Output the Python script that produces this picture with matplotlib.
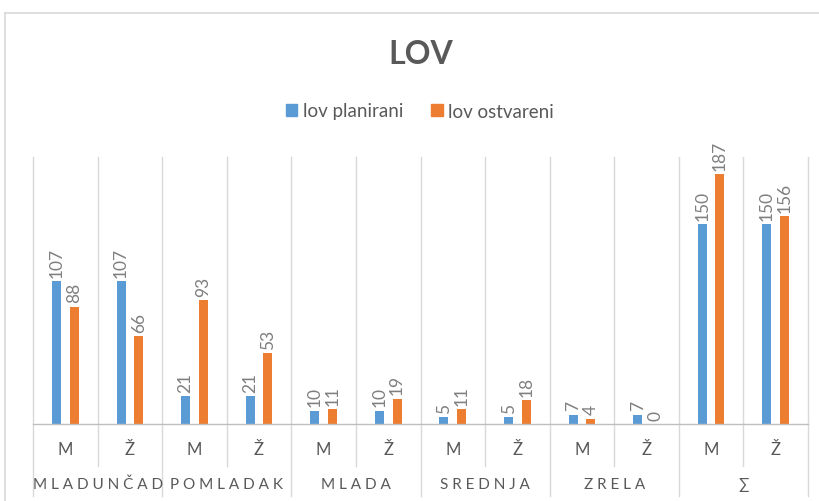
import matplotlib
matplotlib.use("Agg")
import matplotlib.pyplot as plt
from matplotlib.patches import Patch
from matplotlib.lines import Line2D
import numpy as np

plt.rcParams['font.family'] = ['Lato', 'DejaVu Sans']

groups = ["MLADUNČAD", "POMLADAK", "MLADA", "SREDNJA", "ZRELA", "∑"]
sexes = ["M", "Ž"]
planirani = [107, 107, 21, 21, 10, 10, 5, 5, 7, 7, 150, 150]
ostvareni = [88, 66, 93, 53, 11, 19, 11, 18, 4, 0, 187, 156]
series_names = ["lov planirani", "lov ostvareni"]
colors = ["#5B9BD5", "#ED7D31"]

W, H = 819, 502
fig = plt.figure(figsize=(W / 100, H / 100), dpi=100)

# plot area in pixels
px_l, px_r, px_b, px_t = 33, 808, 425, 158
ax = fig.add_axes([px_l / W, 1 - px_b / H, (px_r - px_l) / W, (px_b - px_t) / H])

n = len(planirani)
x = np.arange(n)
bw = 0.14
off = 0.137
b1 = ax.bar(x - off, planirani, bw, color=colors[0], zorder=3)
b2 = ax.bar(x + off, ostvareni, bw, color=colors[1], zorder=3)

lab_col = "#7F7F7F"
for bars, vals in ((b1, planirani), (b2, ostvareni)):
    for r, v in zip(bars, vals):
        ax.annotate(str(v), (r.get_x() + r.get_width() / 2, v), xytext=(0, 3),
                    textcoords="offset points", rotation=90, ha="center", va="bottom",
                    fontsize=12.5, color=lab_col)

ax.set_xlim(-0.5, n - 0.5)
ax.set_ylim(0, 200)
for s in ax.spines.values():
    s.set_visible(False)
ax.set_xticks([])
ax.set_yticks([])

grid_col = "#D9D9D9"
plot_h = px_b - px_t
def yf(py):
    return (px_b - py) / plot_h

trans = ax.get_xaxis_transform()
for k in range(n + 1):
    xb = k - 0.5
    is_group = (k % 2 == 0)
    ybot = yf(497) if is_group else yf(467)
    ax.plot([xb, xb], [ybot, 1], transform=trans, color=grid_col, lw=1, clip_on=False, zorder=1)
ax.plot([-0.5, n - 0.5], [0, 0], transform=trans, color="#BFBFBF", lw=1, clip_on=False, zorder=4)

axis_col = "#595959"
for i in range(n):
    ax.text(i, yf(450), sexes[i % 2], transform=trans, ha="center", va="center",
            fontsize=12, color=axis_col)
for g, name in enumerate(groups):
    ax.text(2 * g + 0.5, yf(485), " ".join(name), transform=trans, ha="center", va="center",
            fontsize=11, color=axis_col)

# title
fig.text(0.5 * (px_l + px_r) / W, 1 - 55 / H, "LOV", ha="center", va="center",
         fontsize=23, fontweight="bold", color=axis_col)

# legend
handles = [Patch(color=c) for c in colors]
fig.legend(handles, series_names, loc="center", bbox_to_anchor=(420 / W, 1 - 112 / H),
           ncol=2, frameon=False, fontsize=13.5, handlelength=0.6, handleheight=0.6,
           handletextpad=0.3, columnspacing=1.5, labelcolor=axis_col)

# outer chart border
fig.add_artist(Line2D([5 / W, 5 / W], [0, 1 - 14 / H], color=grid_col, lw=1.2))
fig.add_artist(Line2D([5 / W, 1], [1 - 14 / H, 1 - 14 / H], color=grid_col, lw=1.2))

fig.savefig("out.png", dpi=100)
